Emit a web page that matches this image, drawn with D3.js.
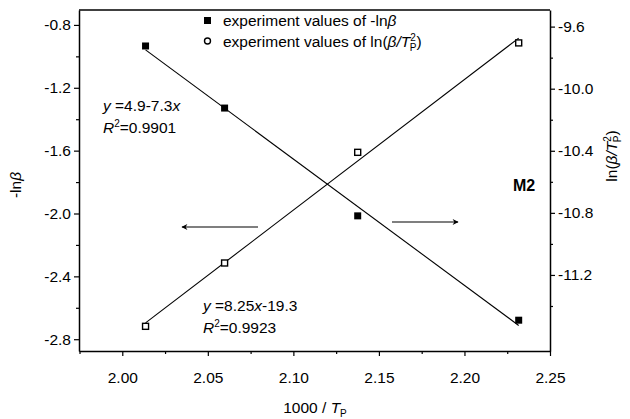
<!DOCTYPE html>
<html>
<head>
<meta charset="utf-8">
<script src="https://cdn.jsdelivr.net/npm/d3@7"></script>
<style>
  body { margin: 0; background: #fff; }
  text { font-family: "Liberation Sans", Arial, sans-serif; fill: #000; }
  .axis path, .axis line { stroke: #000; }
</style>
</head>
<body>
<div id="chart"></div>
<script>
// data
var xVals = [2.0136, 2.0598, 2.1376, 2.2317];          // 1000 / Tp
var lnBeta = [-0.934, -1.329, -2.015, -2.679];         // -ln(beta), left axis
var lnBetaT2 = [-11.531, -11.123, -10.410, -9.705];    // ln(beta/Tp^2), right axis

var xTicks = [2.00, 2.05, 2.10, 2.15, 2.20, 2.25];
var xMinor = [1.975, 2.025, 2.075, 2.125, 2.175, 2.225];
var leftTicks = [-0.8, -1.2, -1.6, -2.0, -2.4, -2.8];
var leftMinor = [-1.0, -1.4, -1.8, -2.2, -2.6];
var rightTicks = [-9.6, -10.0, -10.4, -10.8, -11.2];
var rightMinor = [-9.8, -10.2, -10.6, -11.0, -11.4];

var W = 630, H = 419;
var margin = {top: 10, right: 80, bottom: 68, left: 79},
    width = W - margin.left - margin.right,
    height = H - margin.top - margin.bottom;

var svg = d3.select("#chart").append("svg")
    .attr("width", W)
    .attr("height", H);

var g = svg.append("g")
    .attr("transform", "translate(" + margin.left + "," + margin.top + ")");

var x = d3.scaleLinear().domain([1.9747, 2.25]).range([0, width]);
var yL = d3.scaleLinear().domain([-2.875, -0.705]).range([height, 0]);
var yR = d3.scaleLinear().domain([-11.69, -9.493]).range([height, 0]);

// least squares fit for the straight lines
function fit(xs, ys) {
    var mx = d3.mean(xs), my = d3.mean(ys), sxy = 0, sxx = 0;
    xs.forEach(function(v, i){ sxy += (v - mx) * (ys[i] - my); sxx += (v - mx) * (v - mx); });
    var b = sxy / sxx;
    return function(v){ return my + b * (v - mx); };
}
var fitL = fit(xVals, lnBeta), fitR = fit(xVals, lnBetaT2);
var xr = d3.extent(xVals);

g.append("line")
    .attr("x1", x(xr[0])).attr("y1", yL(fitL(xr[0])))
    .attr("x2", x(xr[1])).attr("y2", yL(fitL(xr[1])))
    .attr("stroke", "#000").attr("stroke-width", 1.1);
g.append("line")
    .attr("x1", x(xr[0])).attr("y1", yR(fitR(xr[0])))
    .attr("x2", x(xr[1])).attr("y2", yR(fitR(xr[1])))
    .attr("stroke", "#000").attr("stroke-width", 1.1);

// axes
function styleAxis(sel) {
    sel.selectAll("path").attr("stroke-width", 1.5);
    sel.selectAll("line").attr("stroke-width", 1.2);
    sel.selectAll("text").style("font-size", "15.5px");
}

var xAxis = g.append("g").attr("class", "axis")
    .attr("transform", "translate(0," + height + ")")
    .call(d3.axisBottom(x).tickValues(xTicks).tickSize(5).tickSizeOuter(0).tickPadding(16)
        .tickFormat(function(d){ return d.toFixed(2); }));
styleAxis(xAxis);
g.append("g").attr("class", "axis")
    .attr("transform", "translate(0," + height + ")")
    .call(d3.axisBottom(x).tickValues(xMinor).tickSize(3).tickFormat(""))
    .call(function(s){ s.select("path").remove(); s.selectAll("line").attr("stroke-width", 1.2); });

var lAxis = g.append("g").attr("class", "axis")
    .call(d3.axisLeft(yL).tickValues(leftTicks).tickSize(5).tickSizeOuter(0).tickPadding(3)
        .tickFormat(function(d){ return d.toFixed(1); }));
styleAxis(lAxis);
g.append("g").attr("class", "axis")
    .call(d3.axisLeft(yL).tickValues(leftMinor).tickSize(3).tickFormat(""))
    .call(function(s){ s.select("path").remove(); s.selectAll("line").attr("stroke-width", 1.2); });

var rAxis = g.append("g").attr("class", "axis")
    .attr("transform", "translate(" + width + ",0)")
    .call(d3.axisRight(yR).tickValues(rightTicks).tickSize(5).tickSizeOuter(0).tickPadding(3)
        .tickFormat(function(d){ return d.toFixed(1); }));
styleAxis(rAxis);
g.append("g").attr("class", "axis")
    .attr("transform", "translate(" + width + ",0)")
    .call(d3.axisRight(yR).tickValues(rightMinor).tickSize(3).tickFormat(""))
    .call(function(s){ s.select("path").remove(); s.selectAll("line").attr("stroke-width", 1.2); });

// top border
g.append("line").attr("x1", 0).attr("x2", width).attr("y1", 0).attr("y2", 0)
    .attr("stroke", "#000").attr("stroke-width", 1.5);

// markers
var ms = 7;
g.selectAll(".filled").data(xVals).enter().append("rect")
    .attr("x", function(d){ return x(d) - ms / 2; })
    .attr("y", function(d, i){ return yL(lnBeta[i]) - ms / 2; })
    .attr("width", ms).attr("height", ms)
    .attr("fill", "#000");
g.selectAll(".open").data(xVals).enter().append("rect")
    .attr("x", function(d){ return x(d) - (ms - 1) / 2; })
    .attr("y", function(d, i){ return yR(lnBetaT2[i]) - (ms - 1) / 2; })
    .attr("width", ms - 1).attr("height", ms - 1)
    .attr("fill", "#fff").attr("stroke", "#000").attr("stroke-width", 1.4);

// legend
var leg = svg.append("g");
leg.append("rect").attr("x", 204).attr("y", 17).attr("width", 7).attr("height", 7).attr("fill", "#000");
leg.append("circle").attr("cx", 207.5).attr("cy", 41).attr("r", 3)
    .attr("fill", "#fff").attr("stroke", "#000").attr("stroke-width", 1.4);
var t1 = leg.append("text").attr("x", 223).attr("y", 26).style("font-size", "15.5px");
t1.append("tspan").text("experiment values of -ln");
t1.append("tspan").style("font-style", "italic").text("\u03b2");
var t2 = leg.append("text").attr("x", 223).attr("y", 47).style("font-size", "15.5px");
t2.append("tspan").text("experiment values of ln(");
t2.append("tspan").style("font-style", "italic").text("\u03b2/T");
t2.append("tspan").attr("dy", -6).style("font-size", "10px").text("2");
t2.append("tspan").attr("dx", -6).attr("dy", 10).style("font-size", "10px").text("P");
t2.append("tspan").attr("dy", -4).text(")");

// equations
function eq(xp, yp, parts) {
    var t = svg.append("text").attr("x", xp).attr("y", yp).style("font-size", "15.5px");
    parts.forEach(function(p){
        var s = t.append("tspan").text(p[0]);
        if (p[1] === "i") s.style("font-style", "italic");
        if (p[1] === "sup") s.attr("dy", -6).style("font-size", "10px");
        if (p[1] === "back") s.attr("dy", 6);
    });
}
eq(103, 111, [["y", "i"], [" =4.9-7.3"], ["x", "i"]]);
eq(103, 133, [["R", "i"], ["2", "sup"], ["=0.9901", "back"]]);
eq(203, 311, [["y", "i"], [" =8.25"], ["x", "i"], ["-19.3"]]);
eq(203, 333, [["R", "i"], ["2", "sup"], ["=0.9923", "back"]]);

// arrows
var defs = svg.append("defs");
defs.append("marker").attr("id", "ah").attr("viewBox", "0 0 10 10")
    .attr("refX", 9).attr("refY", 5).attr("markerWidth", 12).attr("markerHeight", 6)
    .attr("markerUnits", "userSpaceOnUse").attr("orient", "auto")
    .append("path").attr("d", "M0,0 L10,5 L0,10 L3,5 Z").attr("fill", "#000");
svg.append("line").attr("x1", 258).attr("y1", 227).attr("x2", 182).attr("y2", 227)
    .attr("stroke", "#000").attr("stroke-width", 1.2).attr("marker-end", "url(#ah)");
svg.append("line").attr("x1", 392).attr("y1", 222).attr("x2", 458).attr("y2", 222)
    .attr("stroke", "#000").attr("stroke-width", 1.2).attr("marker-end", "url(#ah)");

// M2
svg.append("text").attr("x", 524).attr("y", 191).attr("text-anchor", "middle")
    .style("font-size", "16px").style("font-weight", "bold").text("M2");

// axis titles
var xt = svg.append("text").attr("x", 315).attr("y", 413).attr("text-anchor", "middle")
    .style("font-size", "15.5px");
xt.append("tspan").text("1000 / ");
xt.append("tspan").style("font-style", "italic").text("T");
xt.append("tspan").attr("dy", 4).style("font-size", "10px").text("P");

var lt = svg.append("text").attr("transform", "translate(21,185) rotate(-90)")
    .attr("text-anchor", "middle").style("font-size", "15.5px");
lt.append("tspan").text("-ln");
lt.append("tspan").style("font-style", "italic").text("\u03b2");

var rt = svg.append("text").attr("transform", "translate(617,156) rotate(-90)")
    .attr("text-anchor", "middle").style("font-size", "15.5px");
rt.append("tspan").text("ln(");
rt.append("tspan").style("font-style", "italic").text("\u03b2/T");
rt.append("tspan").attr("dy", -6).style("font-size", "10px").text("2");
rt.append("tspan").attr("dx", -6).attr("dy", 10).style("font-size", "10px").text("P");
rt.append("tspan").attr("dy", -4).text(")");
</script>
</body>
</html>
